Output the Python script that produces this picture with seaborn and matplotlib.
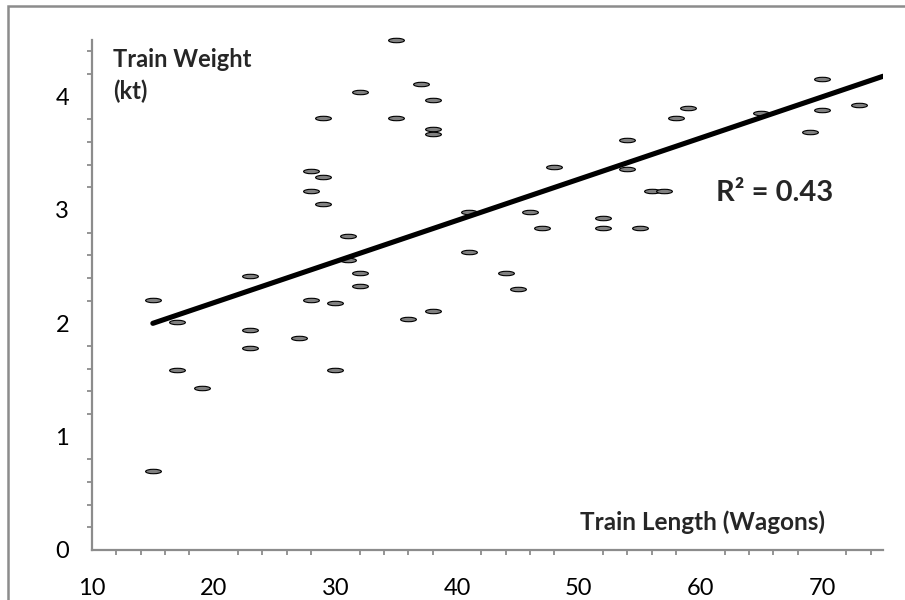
import numpy as np
import pandas as pd
import matplotlib
matplotlib.use("Agg")
import matplotlib.pyplot as plt
import seaborn as sns
from matplotlib.path import Path
from matplotlib.transforms import Affine2D
from matplotlib.patches import Rectangle
from matplotlib.ticker import MultipleLocator

# ---- data ----
train_length = [35, 37, 32, 38, 29, 35, 38, 38, 28, 29, 28, 29, 31, 31, 23, 32, 32,
                15, 28, 30, 17, 23, 23, 27, 36, 38, 17, 30, 19, 15,
                70, 73, 65, 70, 69, 59, 58, 54, 48, 54, 56, 57, 41, 46, 52, 47, 52,
                55, 41, 44, 45]
train_weight = [4.50, 4.11, 4.04, 3.97, 3.81, 3.81, 3.715, 3.67, 3.34, 3.29, 3.17, 3.05,
                2.77, 2.56, 2.42, 2.44, 2.33, 2.205, 2.205, 2.18, 2.015, 1.945, 1.78,
                1.875, 2.04, 2.11, 1.59, 1.59, 1.43, 0.70,
                4.16, 3.93, 3.86, 3.88, 3.69, 3.90, 3.81, 3.62, 3.38, 3.36, 3.17, 3.17,
                2.98, 2.98, 2.93, 2.84, 2.84, 2.84, 2.63, 2.44, 2.30]
trend_x = [15, 75]
trend_y = [2.00, 4.18]
r2_text = "R\u00b2 = 0.43"
x_label = "Train Length (Wagons)"
y_label = "Train Weight\n(kt)"
x_ticks = [10, 20, 30, 40, 50, 60, 70]
y_ticks = [0, 1, 2, 3, 4]

df = pd.DataFrame({"length": train_length, "weight": train_weight})
trend = pd.DataFrame({"x": trend_x, "y": trend_y})

sns.set_theme(style="white")
plt.rcParams["font.family"] = ["Lato", "DejaVu Sans"]

fig = plt.figure(figsize=(9.05, 6.0), dpi=100)
ax = fig.add_axes([92 / 905, 50 / 600, (883 - 92) / 905, (550 - 40) / 600])

ellipse = Path.unit_circle().transformed(Affine2D().scale(1.0, 0.28))

sns.scatterplot(data=df, x="length", y="weight", ax=ax, marker=ellipse, s=130,
                color="#808080", edgecolor="black", linewidth=0.8, zorder=3,
                clip_on=False)
sns.lineplot(data=trend, x="x", y="y", ax=ax, color="black", linewidth=3.7,
             zorder=4, solid_capstyle="round")

ax.set_xlim(10, 75)
ax.set_ylim(0, 4.5)
ax.set_xticks(x_ticks)
ax.set_yticks(y_ticks)
ax.xaxis.set_minor_locator(MultipleLocator(2))
ax.yaxis.set_minor_locator(MultipleLocator(0.2))
ax.set_xlabel("")
ax.set_ylabel("")

gray = "#8c8c8c"
for side in ["top", "right"]:
    ax.spines[side].set_visible(False)
for side in ["left", "bottom"]:
    ax.spines[side].set_color(gray)
    ax.spines[side].set_linewidth(1.6)

ax.tick_params(axis="both", which="both", direction="out", color=gray, width=1.3,
               labelsize=17, labelcolor="black")
ax.tick_params(axis="y", which="major", length=6.5, pad=10)
ax.tick_params(axis="y", which="minor", length=3.5, left=True)
ax.tick_params(axis="x", which="major", length=5, pad=15.5)
ax.tick_params(axis="x", which="minor", length=3.5, bottom=True)

ax.text(11.7, 4.43, y_label, fontsize=17, fontweight="bold", ha="left", va="top",
        linespacing=1.45)
ax.text(70.2, 0.18, x_label, fontsize=17.5, fontweight="bold", ha="right",
        va="baseline")
ax.text(61.3, 3.08, r2_text, fontsize=21, fontweight="bold", ha="left",
        va="baseline")

fig.patches.append(Rectangle((8 / 905, -0.05), 1.1, 1 - 6 / 600 + 0.05,
                             transform=fig.transFigure, fill=False,
                             edgecolor="#8c8c8c", linewidth=1.8, zorder=0))

fig.savefig("out.png", dpi=100)
